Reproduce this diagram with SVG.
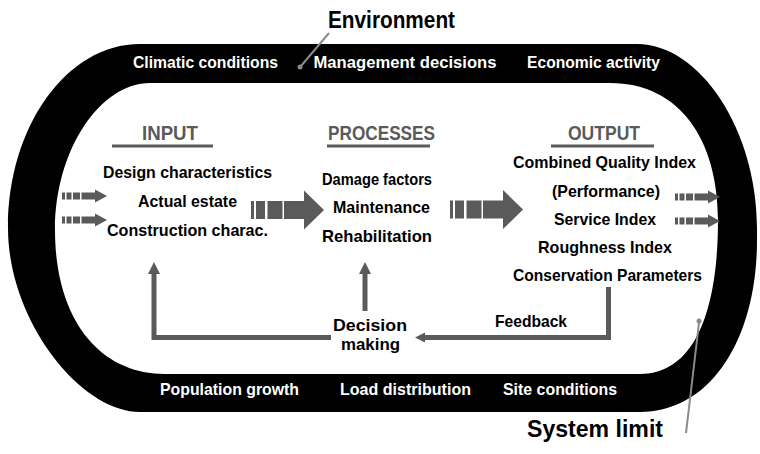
<svg xmlns="http://www.w3.org/2000/svg" xmlns:xlink="http://www.w3.org/1999/xlink" width="760" height="454" viewBox="0 0 760 454">
  <style>
    text { font-family: "Liberation Sans", Arial, sans-serif; font-weight: bold; text-anchor: middle; }
    .band { fill: #ffffff; font-size: 17px; }
    .title { fill: #000000; font-size: 23.5px; }
    .head { fill: #5a5a5a; font-size: 20px; }
    .item { fill: #000000; font-size: 17px; }
    .rule { stroke: #5a5a5a; stroke-width: 3; fill: none; }
    .flow { stroke: #5a5a5a; stroke-width: 5; fill: none; }
    .leader { stroke: #8a8a8a; stroke-width: 2; fill: none; }
    .block { fill: #5a5a5a; }
  </style>
  <defs>
    <marker id="headUp" markerUnits="userSpaceOnUse" viewBox="0 -7 13 14" refX="0" refY="0" markerWidth="13" markerHeight="14" orient="auto">
      <path d="M0,-6 L12,0 L0,6 Z" fill="#5a5a5a"/>
    </marker>
    <marker id="headLeft" markerUnits="userSpaceOnUse" viewBox="0 -6 11 12" refX="0" refY="0" markerWidth="11" markerHeight="12" orient="auto">
      <path d="M0,-5 L10,0 L0,5 Z" fill="#5a5a5a"/>
    </marker>
    <!-- striped block arrows, drawn from their left end, centred on y=0 -->
    <g id="smallArrow" class="block">
      <rect x="0" y="-3.5" width="3" height="7"/>
      <rect x="4.5" y="-3.5" width="5" height="7"/>
      <rect x="11" y="-3.5" width="7" height="7"/>
      <path d="M19.5,-3.5 H33 V-6.5 L45,0 L33,6.5 V3.5 H19.5 Z"/>
    </g>
    <g id="bigArrow" class="block">
      <rect x="0" y="-9" width="3" height="18"/>
      <rect x="5" y="-9" width="9" height="18"/>
      <rect x="16.5" y="-9" width="15" height="18"/>
      <path d="M33,-9 H53 V-19.5 L73,0 L53,19.5 V9 H33 Z"/>
    </g>
  </defs>

  <rect width="760" height="454" fill="#ffffff"/>

  <!-- system boundary ring -->
  <g id="system-limit-ring">
    <path fill="#000000" fill-rule="evenodd" d="M140,44 L637,44 C700,44 757,130 757,228 L757,240 C757,340 710,412 640,412 L140,412 C80,412 8,320 8,228 C8,126 67,44 140,44 Z M150,83 L610,83 C680,83 718,140 718,220 C718,310 695,374 640,374 L165,374 C100,374 55,320 55,230 C55,150 100,83 150,83 Z"/>
  </g>

  <!-- environment factors on the ring -->
  <g id="environment">
    <text class="title" x="391.5" y="28" textLength="127" lengthAdjust="spacingAndGlyphs">Environment</text>
    <line class="leader" x1="329" y1="33" x2="301" y2="66"/>
    <circle cx="300" cy="67" r="2.5" fill="#8a8a8a"/>
  </g>
  <g id="climatic-conditions"><text class="band" x="205.5" y="68" textLength="145" lengthAdjust="spacingAndGlyphs">Climatic conditions</text></g>
  <g id="management-decisions"><text class="band" x="405" y="68" textLength="183" lengthAdjust="spacingAndGlyphs">Management decisions</text></g>
  <g id="economic-activity"><text class="band" x="593.5" y="68" textLength="133" lengthAdjust="spacingAndGlyphs">Economic activity</text></g>
  <g id="population-growth"><text class="band" x="229.5" y="395" textLength="139" lengthAdjust="spacingAndGlyphs">Population growth</text></g>
  <g id="load-distribution"><text class="band" x="405.5" y="395" textLength="131" lengthAdjust="spacingAndGlyphs">Load distribution</text></g>
  <g id="site-conditions"><text class="band" x="560" y="395" textLength="114" lengthAdjust="spacingAndGlyphs">Site conditions</text></g>

  <g id="system-limit">
    <text class="title" x="595" y="437" textLength="136" lengthAdjust="spacingAndGlyphs">System limit</text>
    <line class="leader" x1="686" y1="433" x2="699" y2="323"/>
    <circle cx="699" cy="321" r="2.5" fill="#8a8a8a"/>
  </g>

  <!-- input block -->
  <g id="input">
    <text class="head" x="170" y="140" textLength="56" lengthAdjust="spacingAndGlyphs">INPUT</text>
    <line class="rule" x1="112" y1="146" x2="213" y2="146"/>
    <text class="item" x="187.5" y="178" textLength="169" lengthAdjust="spacingAndGlyphs">Design characteristics</text>
    <text class="item" x="187.5" y="207" textLength="99" lengthAdjust="spacingAndGlyphs">Actual estate</text>
    <text class="item" x="187.5" y="236" textLength="161" lengthAdjust="spacingAndGlyphs">Construction charac.</text>
  </g>

  <!-- processes block -->
  <g id="processes">
    <text class="head" x="381.5" y="140" textLength="107" lengthAdjust="spacingAndGlyphs">PROCESSES</text>
    <line class="rule" x1="327" y1="146" x2="430" y2="146"/>
    <text class="item" x="377" y="185" textLength="110" lengthAdjust="spacingAndGlyphs">Damage factors</text>
    <text class="item" x="381.5" y="213" textLength="97" lengthAdjust="spacingAndGlyphs">Maintenance</text>
    <text class="item" x="377" y="242" textLength="110" lengthAdjust="spacingAndGlyphs">Rehabilitation</text>
  </g>

  <!-- output block -->
  <g id="output">
    <text class="head" x="604" y="140" textLength="72" lengthAdjust="spacingAndGlyphs">OUTPUT</text>
    <line class="rule" x1="551" y1="146" x2="654" y2="146"/>
    <text class="item" x="604.5" y="168" textLength="183" lengthAdjust="spacingAndGlyphs">Combined Quality Index</text>
    <text class="item" x="606" y="197" textLength="108" lengthAdjust="spacingAndGlyphs">(Performance)</text>
    <text class="item" x="605" y="225" textLength="102" lengthAdjust="spacingAndGlyphs">Service Index</text>
    <text class="item" x="605" y="253" textLength="134" lengthAdjust="spacingAndGlyphs">Roughness Index</text>
    <text class="item" x="607.5" y="281" textLength="189" lengthAdjust="spacingAndGlyphs">Conservation Parameters</text>
  </g>

  <!-- decision making -->
  <g id="decision-making">
    <text class="item" x="370" y="331" textLength="74" lengthAdjust="spacingAndGlyphs">Decision</text>
    <text class="item" x="370.5" y="350" textLength="59" lengthAdjust="spacingAndGlyphs">making</text>
  </g>

  <g id="feedback-label">
    <text class="item" x="531" y="327" textLength="72" lengthAdjust="spacingAndGlyphs">Feedback</text>
  </g>

  <!-- connectors -->
  <g id="connectors">
    <use xlink:href="#smallArrow" x="62" y="196"/>
    <use xlink:href="#smallArrow" x="62" y="220"/>
    <use xlink:href="#bigArrow" x="251" y="210"/>
    <use xlink:href="#bigArrow" x="450" y="209.5"/>
    <use xlink:href="#smallArrow" x="675" y="197"/>
    <use xlink:href="#smallArrow" x="675" y="221"/>

    <path class="flow" d="M608.5,287 V337.5 H425" marker-end="url(#headLeft)"/>
    <path class="flow" d="M365,311 V274" marker-end="url(#headUp)"/>
    <path class="flow" d="M331,337.5 H154 V274" marker-end="url(#headUp)"/>
  </g>
</svg>
